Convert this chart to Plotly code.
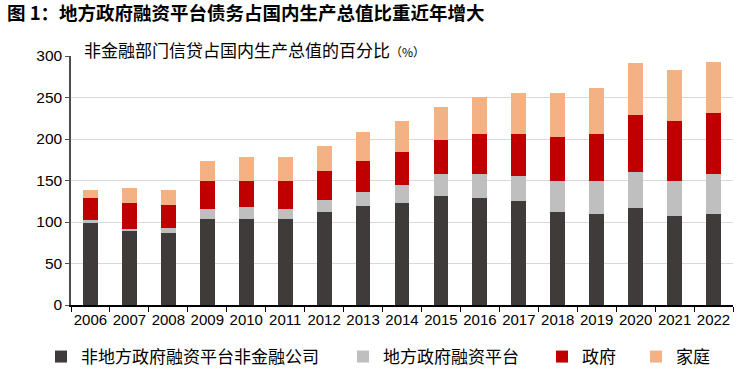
import plotly.graph_objects as go

years = ["2006", "2007", "2008", "2009", "2010", "2011", "2012", "2013", "2014",
         "2015", "2016", "2017", "2018", "2019", "2020", "2021", "2022"]
# segment values (% of GDP)
non_lgfv_corp = [99, 89, 87, 104, 104, 104, 111.5, 119.5, 123, 131, 129, 125, 111.5, 109.5, 117, 107.5, 109.5]
lgfv = [3, 3, 6, 11.5, 14, 11.5, 15.5, 16.5, 21, 27, 29, 31, 37.5, 39.5, 43, 42.5, 48.5]
government = [27, 31, 27, 34.5, 32, 34.5, 35, 38, 40.5, 40.5, 48, 50, 53, 57, 68.6, 72, 73]
household = [10, 18, 19, 24, 28, 28, 29, 34, 37.5, 40.5, 45, 49, 53, 56, 62.4, 61, 62]

names = ["非地方政府融资平台非金融公司", "地方政府融资平台", "政府", "家庭"]
colors = ["#3F3B3B", "#BFBFBF", "#C00000", "#F4B183"]
series = [non_lgfv_corp, lgfv, government, household]

CJK = "Noto Sans CJK SC, sans-serif"
NUM = "Liberation Sans, Arial, sans-serif"

fig = go.Figure()
legend_ids = ["legend", "legend2", "legend3", "legend4"]
for name, col, vals, lg in zip(names, colors, series, legend_ids):
    fig.add_trace(go.Bar(x=years, y=vals, name=name, marker=dict(color=col, line=dict(width=0)),
                         legend=lg))

W, H = 742, 373
L, R, T, B = 71, 9, 56, 68
pw = W - L - R
ph = H - T - B

def px_x(px):
    return (px - L) / pw

def px_y(py):
    return (H - B - py) / ph

text_starts = [83, 385, 584, 678]
leg_common = dict(orientation="h", yanchor="middle", xanchor="left",
                  xref="container", yref="container",
                  font=dict(family=CJK, size=17, color="#000000"),
                  bgcolor="rgba(0,0,0,0)", borderwidth=0, itemwidth=30,
                  tracegroupgap=0)
legends = {}
for lg, ts in zip(legend_ids, text_starts):
    legends[lg] = dict(leg_common, x=(ts - 42) / W, y=1 - 357 / H)

fig.update_layout(
    width=W, height=H,
    margin=dict(l=L, r=R, t=T, b=B, autoexpand=False),
    barmode="stack",
    bargap=0.62,
    plot_bgcolor="white",
    paper_bgcolor="white",
    showlegend=True,
    title=dict(text="<b>图 1：地方政府融资平台债务占国内生产总值比重近年增大</b>",
               font=dict(family=CJK, size=18.5, color="#000000"),
               xref="container", yref="container",
               x=7 / W, xanchor="left", y=1 - 14 / H, yanchor="middle"),
    xaxis=dict(type="category", showgrid=False, showline=True, linecolor="#000000", linewidth=1.5,
               ticks="outside", tickson="boundaries", ticklen=5, tickcolor="#000000",
               tickangle=0, automargin=False,
               tickfont=dict(family=NUM, size=15, color="#000000")),
    yaxis=dict(range=[0, 300], tickvals=[0, 50, 100, 150, 200, 250, 300],
               showgrid=True, gridcolor="#D9D9D9", gridwidth=1,
               showline=True, linecolor="#4D4D4D", linewidth=1.5,
               ticks="outside", ticklen=4, tickcolor="#4D4D4D", automargin=False,
               tickfont=dict(family=NUM, size=15.5, color="#000000"),
               zeroline=False),
    annotations=[dict(text="非金融部门信贷占国内生产总值的百分比<span style='font-size:12px'>（%）</span>",
                      xref="paper", yref="paper", x=px_x(82), y=px_y(50),
                      xanchor="left", yanchor="middle", showarrow=False,
                      font=dict(family=CJK, size=17, color="#000000"))],
    **legends,
)

fig.write_html("out.html", config={"displayModeBar": False},
               post_script="document.body.style.margin='0';document.body.style.padding='0';")
